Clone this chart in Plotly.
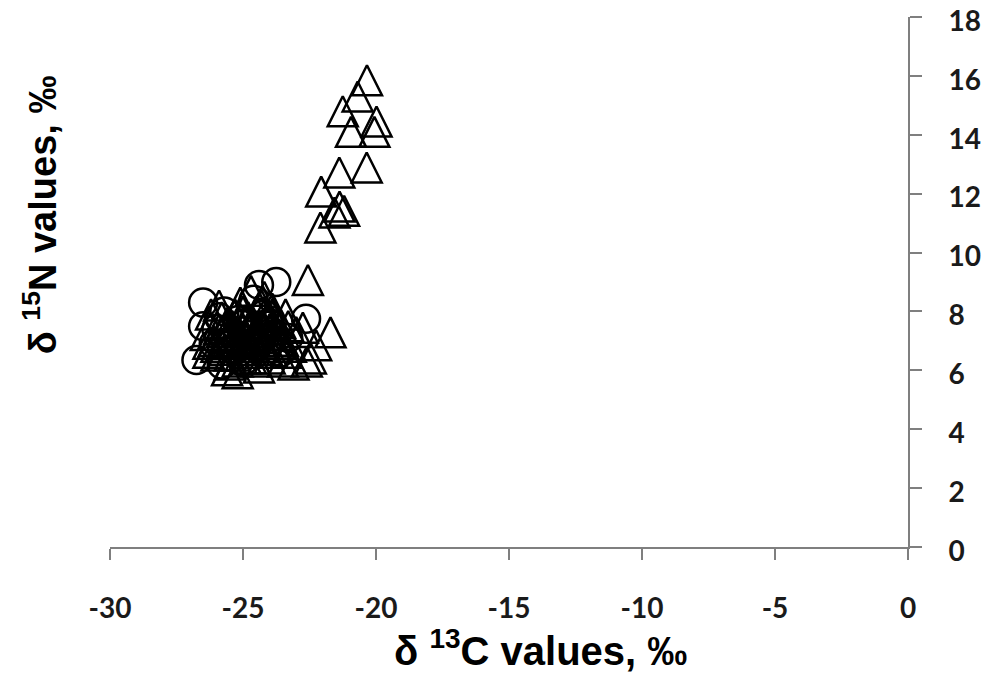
import plotly.graph_objects as go

# Isotope values (per mil) — group A (triangles)
tri_c13 = [
    -20.34, -20.69, -21.25, -19.98, -20.94, -20.06, -20.35, -21.38, -22.06,
    -21.37, -21.20, -21.56, -22.09, -22.56, -21.71, -22.25, -22.75, -22.45,
    -26.2, -25.9, -25.6, -25.3, -25.8, -26.0, -25.5, -25.2, -25.6, -24.9,
    -24.6, -24.3, -24.5, -24.2, -24.7, -23.9, -23.6, -23.8, -24.0, -24.4,
    -23.5, -23.2, -23.0, -23.4, -24.8, -25.1, -26.4, -26.3, -25.0, -23.1,
    -22.6, -24.1,
    -25.9, -25.4, -25.1, -24.9, -24.4, -24.1, -23.7, -23.3, -25.7, -25.3,
    -24.7, -24.2, -23.9, -23.5, -26.1, -25.5, -24.9, -24.5, -24.0, -23.6,
    -25.2, -24.6, -23.8, -25.8, -26.3, -24.3, -23.4, -25.0, -24.8, -25.5,
    -25.6, -25.0, -24.4, -23.8, -25.3, -24.7, -24.1, -26.0, -25.4, -24.2,
    -23.7, -25.1, -24.5, -25.8, -24.9, -24.3, -23.9, -25.2, -24.6, -24.0,
]
tri_n15 = [
    15.85, 15.30, 14.80, 14.45, 14.10, 14.10, 12.89, 12.72, 12.07,
    11.56, 11.42, 11.36, 10.85, 9.07, 7.29, 6.85, 7.45, 6.40,
    7.9, 8.2, 7.6, 7.2, 6.9, 6.5, 6.2, 5.9, 6.0, 6.6,
    7.0, 7.5, 8.0, 8.5, 8.7, 8.1, 7.6, 7.0, 6.4, 6.1,
    6.3, 6.8, 7.3, 7.9, 7.8, 8.3, 7.2, 6.6, 7.4, 6.2,
    6.3, 7.2,
    7.4, 7.0, 6.8, 7.7, 7.3, 6.7, 7.2, 7.5, 6.7, 7.9,
    6.4, 7.9, 6.6, 7.0, 7.0, 6.5, 7.1, 6.3, 7.8, 6.9,
    6.3, 7.6, 7.7, 7.8, 6.9, 6.9, 6.6, 8.0, 6.9, 7.3,
    7.1, 6.9, 7.1, 7.4, 6.5, 7.5, 7.7, 6.8, 7.5, 6.9,
    6.8, 7.2, 7.2, 7.3, 6.4, 8.2, 7.9, 7.0, 6.7, 7.4,
]

# Group B (circles)
circ_c13 = [
    -26.5, -26.5, -26.75, -26.1, -25.7, -25.4, -24.4, -23.75, -24.6, -24.2,
    -23.9, -24.5, -25.0, -23.6, -22.63, -25.2, -26.0, -24.8, -23.3, -25.8,
    -25.5, -24.9, -24.3, -25.9, -24.0, -25.1,
]
circ_n15 = [
    8.3, 7.5, 6.35, 6.9, 8.0, 6.7, 8.9, 9.0, 8.4, 7.9,
    7.3, 6.8, 6.3, 6.6, 7.75, 7.7, 7.4, 7.2, 7.1, 6.2,
    7.3, 7.6, 7.1, 7.8, 7.6, 6.9,
]

x_ticks = [-30, -25, -20, -15, -10, -5, 0]
y_ticks = [0, 2, 4, 6, 8, 10, 12, 14, 16, 18]

axis_grey = "#7f7f7f"
tick_font = dict(family="Lato, Open Sans, sans-serif", size=28, color="#1a1a1a", weight=700)
marker_line = dict(width=2.5)
tri_size = 30

fig = go.Figure()
fig.add_trace(go.Scatter(
    x=circ_c13, y=circ_n15, mode="markers",
    marker=dict(symbol="circle-open", size=28, color="black", line=marker_line),
    showlegend=False, hoverinfo="skip",
))
# Upright open triangle as tall as it is wide: a flipped arrow head,
# pushed back by half its height so it is centred on the point.
fig.add_trace(go.Scatter(
    x=tri_c13, y=tri_n15, mode="markers",
    marker=dict(symbol="arrow-down-open", size=tri_size, angle=180, standoff=tri_size / 2,
                color="black", line=marker_line),
    showlegend=False, hoverinfo="skip",
))

fig.update_layout(
    width=985, height=677,
    margin=dict(l=110, r=77, t=17, b=130, autoexpand=False),
    paper_bgcolor="white", plot_bgcolor="white",
    xaxis=dict(
        range=[-30, 0], tickvals=x_ticks, ticktext=[str(v) for v in x_ticks],
        showgrid=False, zeroline=False, showline=True, linecolor=axis_grey, linewidth=2,
        ticks="outside", ticklen=11, tickwidth=2, tickcolor=axis_grey,
        tickfont=tick_font, ticklabelstandoff=24, automargin=False,
        ticklabeloverflow="allow",
    ),
    yaxis=dict(
        range=[0, 18], tickvals=y_ticks, ticktext=[str(v) for v in y_ticks], side="right",
        showgrid=False, zeroline=False, showline=True, linecolor=axis_grey, linewidth=2,
        ticks="outside", ticklen=12, tickwidth=2, tickcolor=axis_grey,
        tickfont=tick_font, ticklabelstandoff=21, ticklabelshift=4, automargin=False,
        ticklabeloverflow="allow",
    ),
    annotations=[
        dict(
            text="δ <sup>13</sup>C values, ‰", xref="paper", yref="paper",
            x=0.54, y=-0.19, xanchor="center", yanchor="middle", showarrow=False,
            font=dict(family="Liberation Sans Narrow, Arial Narrow, Liberation Sans, sans-serif",
                      size=40, color="black", weight=700),
        ),
        dict(
            text="δ <sup>15</sup>N values, ‰", xref="paper", yref="paper",
            x=-0.0877, y=0.626, xanchor="center", yanchor="middle", showarrow=False,
            textangle=-90,
            font=dict(family="Liberation Sans, Arial, sans-serif", size=38, color="black", weight=700),
        ),
    ],
)

fig.write_html("out.html")
